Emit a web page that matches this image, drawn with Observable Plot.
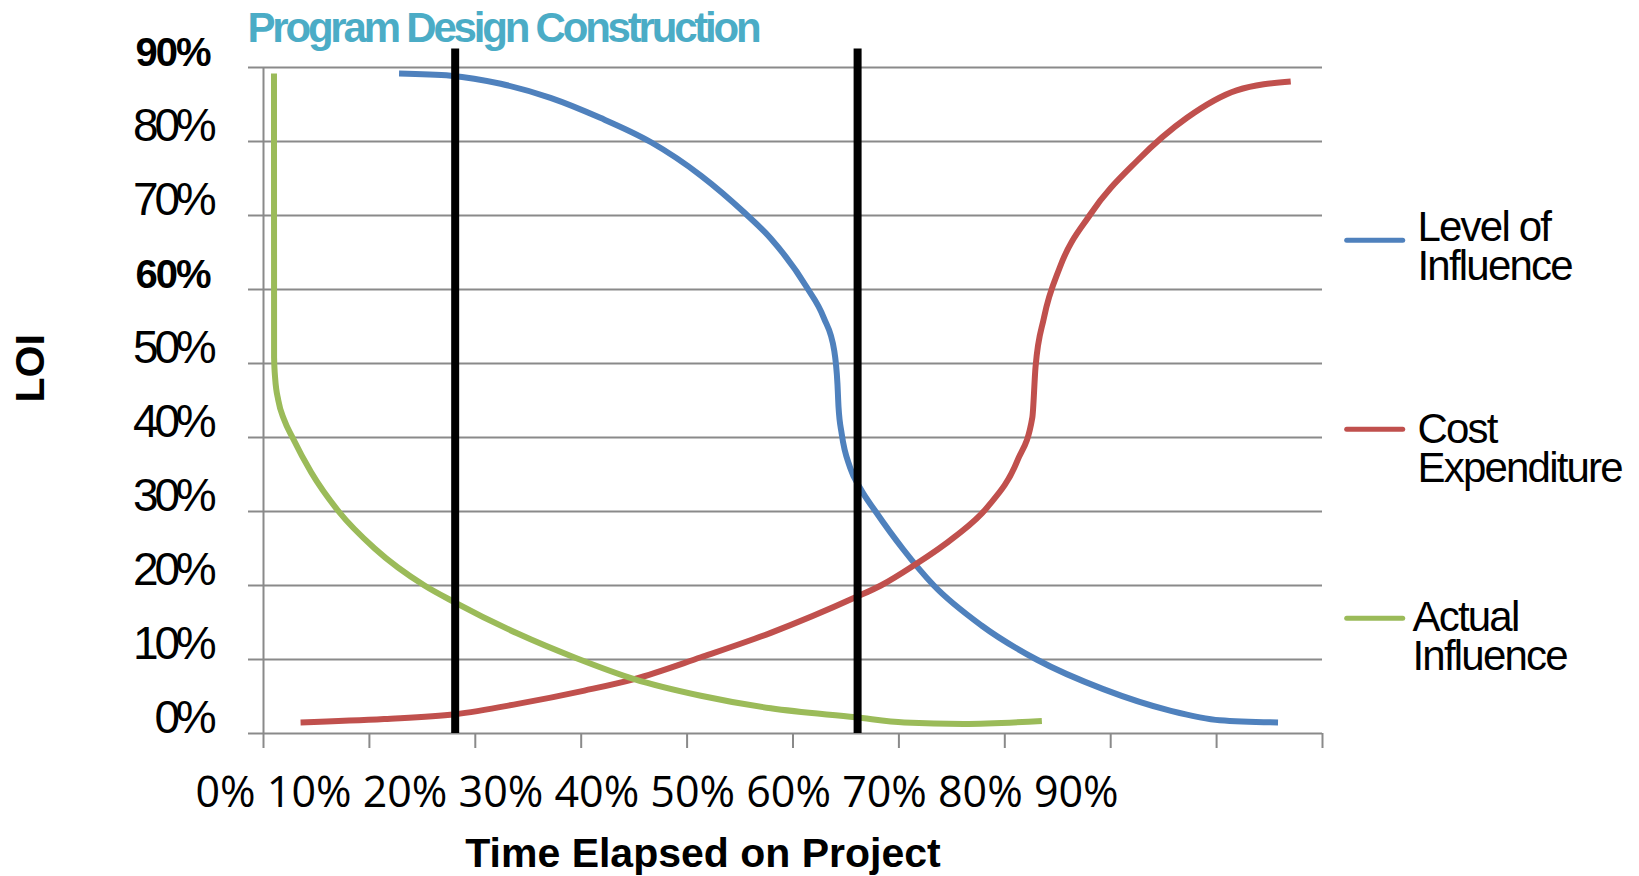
<!DOCTYPE html>
<html><head><meta charset="utf-8">
<script src="https://cdn.jsdelivr.net/npm/d3@7"></script>
<script src="https://cdn.jsdelivr.net/npm/@observablehq/plot@0.6"></script>
<style>
body{margin:0;background:#fff;}
</style></head><body><div id="wrap"></div>
<script>
// ---- text ----
const title = "Program Design Construction";
const yLabel = "LOI";
const xLabel = "Time Elapsed on Project";

// ---- ticks ----
const xTickValues = [0, 10, 20, 30, 40, 50, 60, 70, 80, 90, 100];
const xTickLabels = ["0%", "10%", "20%", "30%", "40%", "50%", "60%", "70%", "80%", "90%"];
const yTicks = [0, 10, 20, 30, 40, 50, 60, 70, 80, 90];

// ---- phase boundaries (Program | Design | Construction) ----
const phaseBoundaries = [18.1, 56.1];
const phaseTop = 92.5;

// ---- series ----
const seriesNames = ["Level of Influence", "Cost Expenditure", "Actual Influence"];
const legendLines = [["Level of", "Influence"], ["Cost", "Expenditure"], ["Actual", "Influence"]];

const levelOfInfluence = [
  [12.8, 89.2], [17.7, 88.9], [22.4, 87.8], [27.1, 85.9], [31.8, 83.2], [36.6, 79.9],
  [41.3, 75.4], [45.4, 70.4], [47.9, 66.9], [51.3, 60.3], [52.9, 56.2], [53.9, 51.7],
  [54.2, 47.2], [54.3, 44.1], [54.6, 40.5], [55.4, 35.9], [56.4, 33.0], [57.8, 30.0],
  [60.4, 24.9], [63.3, 20.0], [67.8, 14.6], [73.0, 10.0], [79.3, 6.0], [85.6, 3.1],
  [90.3, 1.8], [95.8, 1.5]
];
const costExpenditure = [
  [3.5, 1.5], [11.4, 1.95], [18.1, 2.6], [24.0, 4.0], [30.3, 5.8], [35.0, 7.35],
  [41.3, 10.3], [47.9, 13.6], [55.9, 18.4], [58.3, 20.0], [61.4, 22.7], [65.2, 26.5],
  [68.3, 30.5], [71.2, 36.9], [72.6, 42.7], [72.9, 49.5], [73.7, 56.2], [75.2, 63.0],
  [78.1, 70.2], [82.5, 77.4], [87.2, 83.2], [91.9, 86.9], [97.0, 88.1]
];
const actualInfluence = [
  [0.99, 89.2], [1.0, 50.8], [1.1, 48.0], [1.4, 45.0], [1.95, 42.4], [2.74, 40.0],
  [4.5, 35.3], [7.1, 30.0], [10.5, 25.0], [15.2, 20.0], [18.1, 17.7], [24.0, 13.5],
  [29.5, 10.2], [35.0, 7.35], [41.3, 5.1], [47.9, 3.4], [55.9, 2.2], [60.5, 1.5],
  [66.1, 1.3], [73.5, 1.7]
];

// ---- build table ----
const seriesData = [levelOfInfluence, costExpenditure, actualInfluence];
const rows = seriesData.flatMap((pts, i) => pts.map(([x, y]) => ({series: seriesNames[i], x, y})));
const colors = ["#4F81BD", "#C0504D", "#9BBB59"];
const gridColor = "#8a8a8a";
const font = "Liberation Sans, Arial, sans-serif";

// legend layout (pixels, right of the plot frame)
const legendSwatchX = [1346.7, 1402.7];
const legendSwatchY = [240.3, 429.3, 618.3];
const legendLabelDx = [95, 95, 90];
const legendLabelDy = [146, 348, 536];

function legendSwatches() {
  const g = d3.create("svg:g").attr("aria-label", "legend swatches");
  legendSwatchY.forEach((y, i) => {
    g.append("line")
      .attr("x1", legendSwatchX[0]).attr("x2", legendSwatchX[1])
      .attr("y1", y).attr("y2", y)
      .attr("stroke", colors[i]).attr("stroke-width", 5).attr("stroke-linecap", "round");
  });
  return g.node();
}

const chart = Plot.plot({
  width: 1639,
  height: 876,
  marginLeft: 263,
  marginRight: 317,
  marginTop: 67,
  marginBottom: 143,
  x: {domain: [0, 100]},
  y: {domain: [0, 90]},
  color: {domain: seriesNames, range: colors},
  style: {background: "#fff", fontFamily: font},
  marks: [
    Plot.gridY(yTicks, {stroke: gridColor, strokeOpacity: 1, strokeWidth: 2}),
    Plot.axisY(yTicks, {tickSize: 15, fill: "none", stroke: gridColor, strokeWidth: 2, label: null}),
    Plot.axisX(xTickValues, {tickSize: 15, fill: "none", stroke: gridColor, strokeWidth: 2, label: null}),
    Plot.ruleX([0], {stroke: gridColor, strokeWidth: 2}),
    // y tick labels
    Plot.axisY(yTicks.filter(d => d !== 60 && d !== 90), {
      tickSize: 0, tickPadding: 51, dy: -15, fill: "#000", fontSize: 46, fontFamily: font,
      tickFormat: d => d + "%", label: null
    }),
    Plot.axisY(yTicks.filter(d => d === 60 || d === 90), {
      tickSize: 0, tickPadding: 54, dy: -14, fill: "#000", fontSize: 40, fontWeight: "bold", fontFamily: font,
      tickFormat: d => d + "%", label: null
    }),
    // x tick labels (one run of text, as in the original)
    Plot.text([xTickLabels.join(" ")], {
      frameAnchor: "bottom-left", textAnchor: "start", lineAnchor: "bottom",
      dx: -68, dy: 73, fontSize: 43, fontFamily: "Open Sans, sans-serif", fill: "#000"
    }),
    // series
    Plot.line(rows, {x: "x", y: "y", z: "series", stroke: "series", strokeWidth: 6, curve: "monotone-x", strokeLinecap: "butt"}),
    // phase boundaries
    Plot.ruleX(phaseBoundaries, {y1: 0, y2: phaseTop, stroke: "#000", strokeWidth: 8}),
    // title
    Plot.text([title], {
      frameAnchor: "top-left", textAnchor: "start", lineAnchor: "bottom",
      dx: -16, dy: -26, fontSize: 42, fontWeight: "bold", fontFamily: font, fill: "#4BACC6"
    }),
    // axis titles
    Plot.text([xLabel], {
      frameAnchor: "bottom", textAnchor: "middle", lineAnchor: "bottom",
      dx: -90, dy: 133, fontSize: 41, fontWeight: "bold", fontFamily: font, fill: "#000"
    }),
    Plot.text([yLabel], {
      frameAnchor: "left", rotate: -90, dx: -233, dy: 2,
      fontSize: 41, fontWeight: "bold", fontFamily: font, fill: "#000"
    }),
    // legend
    legendSwatches,
    ...legendLines.map((lines, i) => Plot.text([lines.join("\n")], {
      frameAnchor: "top-right", textAnchor: "start", lineAnchor: "top", lineHeight: 0.93,
      dx: legendLabelDx[i], dy: legendLabelDy[i], fontSize: 42, fontFamily: font, fill: "#000"
    }))
  ]
});

// tighten letter spacing where the original is tight
const legendTexts = legendLines.map(l => l.join(""));
d3.select(chart).selectAll("text").each(function() {
  const t = this.textContent;
  if (t === title) this.style.letterSpacing = "-3.2px";
  else if (legendTexts.includes(t)) this.style.letterSpacing = "-1.8px";
  else if (/^\d+%$/.test(t)) this.style.letterSpacing = this.closest("g").getAttribute("font-weight") === "bold" ? "-2px" : "-4.2px";
});

document.getElementById("wrap").appendChild(chart);
</script></body></html>
